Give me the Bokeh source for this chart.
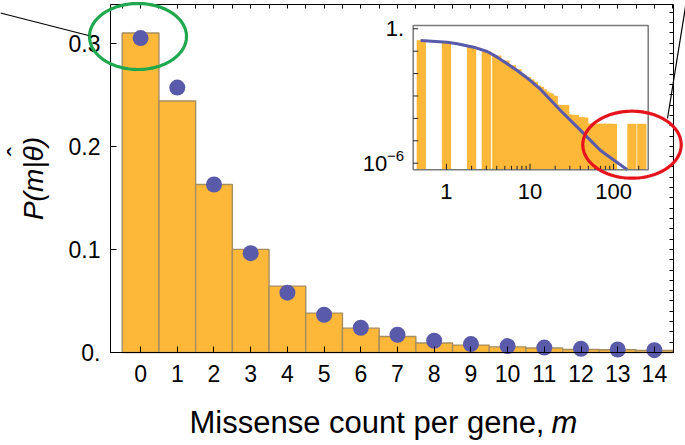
import math
from bokeh.plotting import figure
from bokeh.models import Range1d, LogScale, LinearAxis, FixedTicker, Label, PolyAnnotation
from bokeh.embed import file_html
from bokeh.resources import INLINE
from bokeh.core.properties import value

FONT = "Liberation Sans"

# ---------------- data ----------------
m_values = list(range(15))
observed_p = [0.310, 0.244, 0.163, 0.100, 0.0644, 0.0382, 0.0236, 0.0155,
              0.0092, 0.0072, 0.0055, 0.0043, 0.0029, 0.0026, 0.0020]
model_p = [0.305, 0.257, 0.163, 0.0964, 0.058, 0.0366, 0.024, 0.0172,
           0.0114, 0.0082, 0.0062, 0.0048, 0.0036, 0.0029, 0.0023]
x_tick_labels = [str(m) for m in m_values]
y_tick_values = [0.0, 0.1, 0.2, 0.3]
y_tick_labels = ["0.", "0.1", "0.2", "0.3"]

# inset (log-log): empirical histogram (m = 0 drawn at 0.5) and model curve
inset_x = [0.5, 1, 2, 3, 4, 5, 6, 7, 8, 9, 10, 11, 12, 13, 14,
           15, 16, 17, 18, 19, 20, 22, 24, 26, 28, 31, 34, 36, 40, 44,
           50, 57, 65, 74, 84, 97, 166, 218]
inset_p = [0.310, 0.244, 0.163, 0.100, 0.0644, 0.0382, 0.0236, 0.0155,
           0.0092, 0.0072, 0.0055, 0.0043, 0.0029, 0.0026, 0.0020,
           1.6e-3, 1.4e-3, 1.3e-3, 1.05e-3, 1.0e-3, 4.2e-4, 4.0e-4, 3.9e-4, 4.0e-4,
           1.5e-4, 1.45e-4, 1.4e-4, 1.15e-4, 1.12e-4, 1.1e-4,
           5.7e-5, 5.7e-5, 5.7e-5, 5.7e-5, 5.7e-5, 5.7e-5, 5.7e-5, 5.7e-5]
curve_x = [0.49, 1.02, 1.34, 2.12, 3.07, 4.05, 5.33, 7.03, 10.1, 13.4, 23.2, 40.3, 69.8, 146]
curve_p = [0.30, 0.252, 0.214, 0.151, 0.097, 0.054, 0.0274, 0.0137, 0.0049,
           0.00195, 2.25e-4, 2.9e-5, 3.7e-6, 5.1e-7]
inset_x_ticks = [1, 2, 3, 4, 5, 6, 7, 8, 9, 10, 20, 30, 40, 50, 60, 70, 80, 90, 100, 200]
inset_x_major = [1, 10, 100]
inset_x_labels = ["1", "10", "100"]
inset_y_ticks = [1, 1e-1, 1e-2, 1e-3, 1e-4, 1e-5, 1e-6]

# ---------------- layout ----------------
W, H = 685, 445
FL, FR, FT, FB = 110, 673, 4, 352          # main axes box (canvas px)
X0, X1 = -0.82, 14.52
Y0, Y1 = 0.0, 0.3376
IL, IR, IT, IB = 412.7, 647.7, 25.0, 169.3  # inset box (canvas px)
IX0, IX1 = 0.4, 260.0
IY0, IY1 = 5.07e-7, 1.40

ORANGE = "#FDB83A"
EDGE = "#A68D60"
BLUE = "#5A5AAA"
GREEN = "#1FA84E"
RED = "#E5141C"

# the plotting frame covers the whole canvas; axes are pinned at the box edges
sxu = (X1 - X0) / (FR - FL)
syu = (Y1 - Y0) / (FB - FT)
CX0, CX1 = X0 - FL * sxu, X1 + (W - FR) * sxu
CY0, CY1 = Y0 - (H - FB) * syu, Y1 + FT * syu

lx = (math.log10(IX1) - math.log10(IX0)) / (IR - IL)
ly = (math.log10(IY1) - math.log10(IY0)) / (IB - IT)
ex_lo = 10 ** (math.log10(IX0) - IL * lx)
ex_hi = 10 ** (math.log10(IX1) + (W - IR) * lx)
ey_hi = 10 ** (math.log10(IY1) + IT * ly)
ey_lo = 10 ** (math.log10(IY0) - (H - IB) * ly)


def dx(px):
    return CX0 + px * sxu


def dy(py):
    return CY0 + (H - py) * syu


p = figure(width=W, height=H, x_range=Range1d(CX0, CX1), y_range=Range1d(CY0, CY1),
           output_backend="svg", toolbar_location=None, min_border=0)
p.grid.visible = False
p.outline_line_color = None
p.background_fill_color = "white"
p.border_fill_color = "white"

p.extra_x_ranges = {"inset": Range1d(ex_lo, ex_hi)}
p.extra_y_ranges = {"inset": Range1d(ey_lo, ey_hi)}
p.extra_x_scales = {"inset": LogScale()}
p.extra_y_scales = {"inset": LogScale()}

# ---- main axes ----
xa = p.xaxis[0]
xa.ticker = FixedTicker(ticks=m_values)
xa.major_label_overrides = {m: t for m, t in zip(m_values, x_tick_labels)}
xa.fixed_location = Y0
xa.bounds = (X0, X1)
ya = p.yaxis[0]
ya.ticker = FixedTicker(ticks=y_tick_values)
ya.major_label_overrides = {v: t for v, t in zip(y_tick_values, y_tick_labels)}
ya.fixed_location = X0
ya.bounds = (Y0, Y1)
for ax in (xa, ya):
    ax.major_tick_in = 6
    ax.major_tick_out = 0
    ax.minor_tick_in = 0
    ax.minor_tick_out = 0
    ax.axis_line_color = "black"
    ax.major_tick_line_color = "black"
    ax.major_label_text_font = FONT
    ax.major_label_text_font_size = "23px"
    ax.major_label_text_color = "black"
xa.major_label_standoff = 12
ya.major_label_standoff = 10

top_axis = LinearAxis(ticker=FixedTicker(ticks=[k * 0.5 for k in range(-1, 30)]),
                      fixed_location=Y1, bounds=(X0, X1))
right_axis = LinearAxis(ticker=FixedTicker(ticks=[k * 0.01 for k in range(0, 34)]),
                        fixed_location=X1, bounds=(Y0, Y1))
for ax in (top_axis, right_axis):
    ax.major_tick_in = 4
    ax.major_tick_out = 0
    ax.minor_tick_in = 0
    ax.minor_tick_out = 0
    ax.major_label_text_color = None
    ax.major_label_standoff = 0
    ax.axis_line_color = "black"
    ax.major_tick_line_color = "black"
p.add_layout(top_axis, "above")
p.add_layout(right_axis, "right")

# ---- main bars and model points ----
p.vbar(x=m_values, top=observed_p, bottom=0, width=1.0,
       fill_color=ORANGE, line_color=EDGE, line_width=1.4)
p.scatter(x=m_values, y=model_p, size=16, fill_color=BLUE, line_color=None)

# ---- inset ----
R = dict(x_range_name="inset", y_range_name="inset")
p.quad(left=[IX0], right=[IX1], bottom=[IY0], top=[IY1], fill_color="white",
       line_color=None, **R)
f = 10 ** 0.0553
p.quad(left=[x / f for x in inset_x], right=[x * f for x in inset_x],
       bottom=IY0, top=inset_p, fill_color=ORANGE, line_color=None, **R)
p.line(curve_x, curve_p, line_color=BLUE, line_width=3, **R)
p.quad(left=[IX0], right=[IX1], bottom=[IY0], top=[IY1], fill_color=None,
       line_color="#7a7a7a", line_width=1.5, **R)
tx = 10 ** (4 * ly)
tmaj = 10 ** (6 * ly)
p.segment(x0=inset_x_ticks, x1=inset_x_ticks, y0=IY0,
          y1=[IY0 * (tmaj if t in inset_x_major else tx) for t in inset_x_ticks],
          line_color="#222222", line_width=1, **R)
p.segment(x0=IX0, x1=IX0 * 10 ** (5 * lx), y0=inset_y_ticks, y1=inset_y_ticks,
          line_color="#222222", line_width=1, **R)
p.text(x=inset_x_major, y=[IY0] * 3, text=inset_x_labels, text_font=value(FONT),
       text_font_size="22px", text_align="center", text_baseline="top",
       y_offset=14, text_color="black", **R)
p.text(x=[IX0], y=[1.0], text=["1."], text_font=value(FONT), text_font_size="22px",
       text_align="right", text_baseline="middle", x_offset=-9, text_color="black", **R)
p.text(x=[IX0], y=[1e-6], text=["\u22126"], text_font=value(FONT), text_font_size="15px",
       text_align="right", text_baseline="middle", x_offset=-9, y_offset=-7,
       text_color="black", **R)
p.text(x=[IX0], y=[1e-6], text=["10"], text_font=value(FONT), text_font_size="22px",
       text_align="right", text_baseline="middle", x_offset=-26, text_color="black", **R)

# ---- axis titles ----
p.add_layout(Label(x=dx(189), y=dy(421.5), text="Missense count per gene, ",
                   text_font=FONT, text_font_size="31px", text_baseline="alphabetic",
                   text_color="black"))
p.add_layout(Label(x=dx(551), y=dy(421.5), text="m", text_font=FONT,
                   text_font_size="31px", text_font_style="italic",
                   text_baseline="alphabetic", text_color="black"))
p.add_layout(Label(x=dx(33), y=dy(178), text="P(m|\u03b8)", angle=math.pi / 2,
                   text_font=FONT, text_font_size="28px", text_font_style="italic",
                   text_align="center", text_baseline="middle", text_color="black"))
p.add_layout(Label(x=dx(17), y=dy(151), text="\u02c6", angle=math.pi / 2,
                   text_font=FONT, text_font_size="28px",
                   text_align="center", text_baseline="middle", text_color="black"))


# ---- highlight ellipses and pointer lines ----
def ellipse(cx, cy, a, b, n=120):
    xs = [dx(cx + a * math.cos(2 * math.pi * k / n)) for k in range(n)]
    ys = [dy(cy + b * math.sin(2 * math.pi * k / n)) for k in range(n)]
    return xs, ys


gx, gy = ellipse(137.5, 36.0, 48.5, 33.0)
rx, ry = ellipse(631.5, 144.2, 49.2, 33.5)
for xs, ys, col, lw in ((gx, gy, GREEN, 3.2), (rx, ry, RED, 3.2),
                        ([dx(0), dx(88)], [dy(12.5), dy(35)], "black", 1.2),
                        ([dx(686), dx(667)], [dy(0), dy(118)], "black", 1.2)):
    p.add_layout(PolyAnnotation(xs=xs, ys=ys, fill_color=None, fill_alpha=0,
                                line_color=col, line_alpha=1.0, line_width=lw))

open("out.html", "w").write(file_html(p, INLINE))
